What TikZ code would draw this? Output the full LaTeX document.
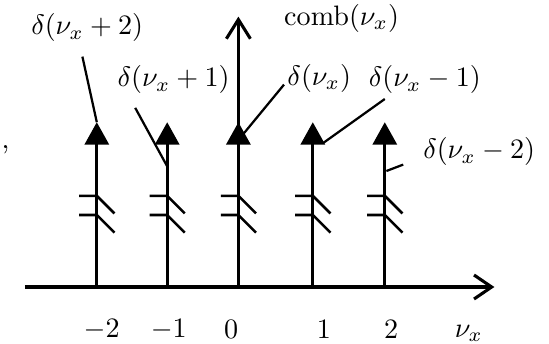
\documentclass[tikz,border=0pt]{standalone}
\usetikzlibrary{arrows.meta}
\begin{document}
\begin{tikzpicture}[line width=1.1pt,
	spike/.style={-{Triangle[length=0.28cm,width=0.3cm]}},
	leader/.style={line width=0.8pt},
	brk/.style={line width=0.9pt}]
	
	\useasboundingbox (0,0) rectangle (6.8625,4.2875);
	
	% axis
	\coordinate (a0) at (0.31,0.7);
	\coordinate (a1) at (6.18,0.7);
	\draw[-{Straight Barb[length=0.22cm,width=0.3cm]}] (a0) -- (a1);
	
	% comb axis
	\coordinate (c0) at (2.98,0.7);
	\coordinate (c1) at (2.98,4.08);
	\draw[-{Straight Barb[length=0.24cm,width=0.3cm]}] (c0) -- (c1);
	
	% spikes with break marks
	\foreach \n/\x in {m2/1.21, m1/2.09, z/2.98, p1/3.91, p2/4.81} {
		\coordinate (b\n) at (\x,0.7);
		\coordinate (t\n) at (\x,2.76);
		\draw[spike] (b\n) -- (t\n);
		\foreach \y in {1.6,1.84} {
			\draw[brk] (\x-0.22,\y) -- (\x,\y) -- (\x+0.22,\y-0.22);
		}
	}
	
	% tick labels
	\foreach \x/\t in {1.27/$-2$, 2.11/$-1$, 2.89/$0$, 4.05/$1$, 4.89/$2$} {
		\node at (\x,0.17) {\t};
	}
	\node (nux) at (5.86,0.12) {$\nu_x$};
	
	% labels
	\node (comb) at (4.27,4.06) {comb$(\nu_x)$};
	\node (dm2) at (1.09,3.94) {$\delta(\nu_x+2)$};
	\node (dm1) at (2.17,3.29) {$\delta(\nu_x+1)$};
	\node (dz) at (3.99,3.31) {$\delta(\nu_x)$};
	\node (dp1) at (5.31,3.29) {$\delta(\nu_x-1)$};
	\node (dp2) at (5.99,2.39) {$\delta(\nu_x-2)$};
	\node[anchor=west, inner sep=0pt] (rest) at (0.0,2.42) {,};
	
	% leaders
	\coordinate (lm2) at (1.03,3.58);
	\coordinate (lm1) at (1.69,2.94);
	\coordinate (em1) at (2.1,2.19);
	\coordinate (lz) at (3.55,3.23);
	\coordinate (ez) at (2.99,2.55);
	\coordinate (lp1) at (4.81,3.05);
	\coordinate (ep1) at (4.04,2.5);
	\coordinate (lp2) at (5.04,2.23);
	\coordinate (ep2) at (4.83,2.15);
	\draw[leader] (lm2) -- (tm2);
	\draw[leader] (lm1) -- (em1);
	\draw[leader] (lz) -- (ez);
	\draw[leader] (lp1) -- (ep1);
	\draw[leader] (lp2) -- (ep2);
	
\end{tikzpicture}
\end{document}
